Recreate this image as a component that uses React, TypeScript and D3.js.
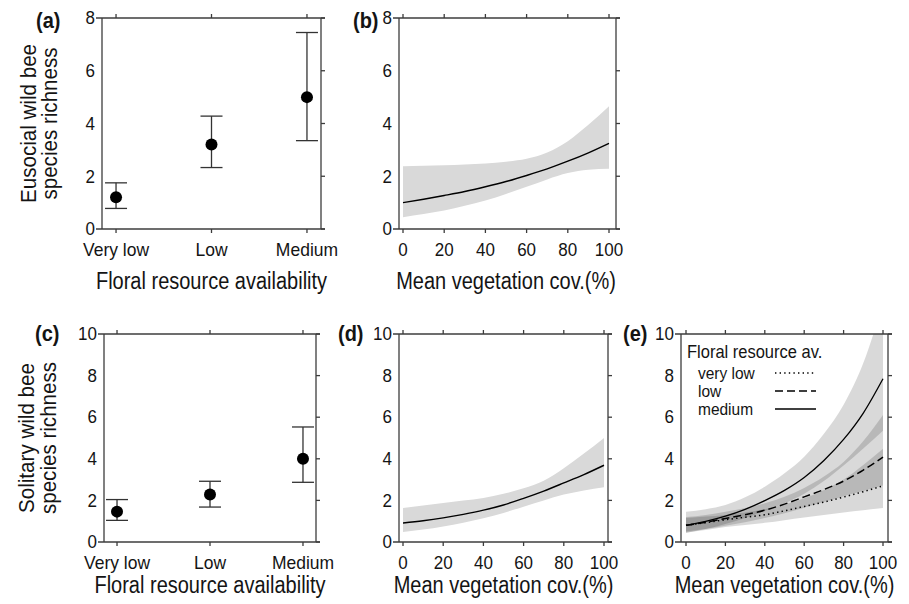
import React, { useEffect, useRef } from "react";
import * as d3 from "d3";

// categorical panels (a) and (c)
const categories = ["Very low", "Low", "Medium"];
const eusocialMean = [1.2, 3.2, 5.0];
const eusocialLow = [0.78, 2.33, 3.35];
const eusocialHigh = [1.75, 4.28, 7.45];
const solitaryMean = [1.46, 2.28, 4.0];
const solitaryLow = [1.04, 1.68, 2.87];
const solitaryHigh = [2.04, 2.92, 5.53];

// vegetation cover panels (b), (d), (e)
const cover = [0, 10, 20, 30, 40, 50, 60, 70, 80, 90, 100];
const coverTicks = [0, 20, 40, 60, 80, 100];

const eusocialFit = [1.0, 1.13, 1.27, 1.42, 1.6, 1.8, 2.03, 2.28, 2.57, 2.89, 3.25];
const eusocialUpper = [2.38, 2.4, 2.42, 2.45, 2.48, 2.55, 2.66, 2.9, 3.33, 3.95, 4.65];
const eusocialLower = [0.45, 0.57, 0.7, 0.88, 1.08, 1.33, 1.6, 1.88, 2.12, 2.25, 2.28];

const solitaryFit = [0.91, 1.02, 1.16, 1.33, 1.53, 1.78, 2.1, 2.45, 2.84, 3.24, 3.69];
const solitaryUpper = [1.63, 1.75, 1.87, 1.99, 2.12, 2.32, 2.58, 2.95, 3.55, 4.25, 5.0];
const solitaryLower = [0.48, 0.6, 0.75, 0.93, 1.14, 1.4, 1.7, 2.0, 2.28, 2.48, 2.63];

const mediumFit = [0.8, 0.99, 1.24, 1.57, 1.99, 2.48, 3.1, 3.92, 4.93, 6.2, 7.85];
const mediumUpper = [1.46, 1.58, 1.78, 2.15, 2.66, 3.3, 4.1, 5.2, 6.6, 8.6, 11.5];
const mediumLower = [0.44, 0.62, 0.86, 1.15, 1.49, 1.86, 2.32, 2.93, 3.68, 4.5, 5.35];

const lowFit = [0.8, 0.95, 1.13, 1.31, 1.53, 1.82, 2.17, 2.52, 2.93, 3.46, 4.08];
const lowUpper = [1.2, 1.3, 1.45, 1.63, 1.86, 2.18, 2.6, 3.15, 3.85, 4.85, 6.1];
const lowLower = [0.5, 0.62, 0.78, 0.95, 1.15, 1.38, 1.65, 1.92, 2.2, 2.45, 2.72];

const veryLowFit = [0.8, 0.93, 1.07, 1.19, 1.31, 1.5, 1.71, 1.92, 2.16, 2.42, 2.7];
const veryLowUpper = [1.15, 1.22, 1.3, 1.42, 1.58, 1.8, 2.1, 2.5, 3.0, 3.7, 4.48];
const veryLowLower = [0.45, 0.58, 0.72, 0.82, 0.92, 1.05, 1.18, 1.3, 1.42, 1.53, 1.63];

const legendLabels = ["very low", "low", "medium"];

const FONT = "'Liberation Sans', Arial, Helvetica, sans-serif";
const AXIS = "#3c3c3c";
const TEXT = "#141414";

type Box = { left: number; right: number; top: number; bottom: number };

const App = () => {
    const svgRef = useRef<SVGSVGElement>(null);

    useEffect(() => {
        const svg = d3.select(svgRef.current);
        svg.selectAll("*").remove();
        svg.append("rect").attr("width", 909).attr("height", 604).attr("fill", "#fff");

        // box with R-style axes: ticks outward on top, bottom, right
        const frame = (box: Box, xTicks: number[], yTicks: number[]) => {
            const g = svg.append("g").attr("stroke", AXIS).attr("stroke-width", 1.3).attr("fill", "none");
            [box.top, box.bottom].forEach((y) =>
                g.append("line").attr("x1", box.left - 6).attr("x2", box.right + 4).attr("y1", y).attr("y2", y)
            );
            [box.left, box.right].forEach((x) =>
                g.append("line").attr("x1", x).attr("x2", x).attr("y1", box.top).attr("y2", box.bottom)
            );
            xTicks.forEach((x) => {
                g.append("line").attr("x1", x).attr("x2", x).attr("y1", box.bottom).attr("y2", box.bottom + 4);
                g.append("line").attr("x1", x).attr("x2", x).attr("y1", box.top).attr("y2", box.top - 4);
            });
            yTicks.forEach((y) => {
                g.append("line").attr("x1", box.right).attr("x2", box.right + 4).attr("y1", y).attr("y2", y);
            });
        };

        // text slightly stretched vertically, as in the original figure
        const text = (x: number, y: number, s: string, size: number, anchor = "start", weight = "normal", sy = 1.12) =>
            svg.append("text")
                .attr("transform", `translate(${x},${y}) scale(1,${sy})`)
                .attr("font-family", FONT)
                .attr("font-size", size)
                .attr("font-weight", weight)
                .attr("fill", TEXT)
                .attr("text-anchor", anchor)
                .text(s);

        const yAxisLabels = (box: Box, y: d3.ScaleLinear<number, number>, ticks: number[]) => {
            ticks.forEach((t) => {
                text(box.left - 7, y(t), String(t), 17, "end", "normal", 1.05).attr("dy", "0.35em");
            });
        };

        const yTitle = (lines: string[], xs: number[], cy: number) => {
            lines.forEach((l, i) => {
                svg.append("text")
                    .attr("transform", `translate(${xs[i]},${cy}) rotate(-90) scale(1.03,1.06)`)
                    .attr("font-family", FONT)
                    .attr("font-size", 20)
                    .attr("fill", TEXT)
                    .attr("text-anchor", "middle")
                    .text(l);
            });
        };

        // ---------- categorical panels ----------
        const catPanel = (
            box: Box, pad: number, yMax: number, yTicks: number[],
            mean: number[], lo: number[], hi: number[], tag: string, tagX: number,
            tickBase: number, titleBase: number
        ) => {
            const x = d3.scalePoint<string>().domain(categories).range([box.left, box.right]).padding(pad);
            const y = d3.scaleLinear().domain([0, yMax]).range([box.bottom, box.top]);
            frame(box, categories.map((c) => x(c)!), yTicks.map(y));
            yAxisLabels(box, y, yTicks);
            categories.forEach((c) => text(x(c)!, tickBase, c, 17.5, "middle", "normal", 1.04));
            text((box.left + box.right) / 2, titleBase, "Floral resource availability", 20, "middle", "normal", 1.15);

            const g = svg.append("g").attr("stroke", "#333").attr("stroke-width", 1.3);
            categories.forEach((c, i) => {
                const cx = x(c)!;
                g.append("line").attr("x1", cx).attr("x2", cx).attr("y1", y(lo[i])).attr("y2", y(hi[i]));
                [lo[i], hi[i]].forEach((v) =>
                    g.append("line").attr("x1", cx - 11).attr("x2", cx + 11).attr("y1", y(v)).attr("y2", y(v))
                );
            });
            svg.append("g")
                .selectAll("circle")
                .data(mean)
                .join("circle")
                .attr("cx", (_, i) => x(categories[i])!)
                .attr("cy", (d) => y(d))
                .attr("r", 6)
                .attr("fill", "#000");
            text(tagX, box.top + (box.top < 100 ? 10 : 7), tag, 20, "start", "bold", 1.1);
        };

        // ---------- vegetation cover panels ----------
        const band = (
            g: d3.Selection<SVGGElement, unknown, null, undefined>,
            x: d3.ScaleLinear<number, number>, y: d3.ScaleLinear<number, number>,
            lo: number[], hi: number[], fill: string, opacity: number
        ) => {
            const area = d3.area<number>()
                .x((_, i) => x(cover[i]))
                .y0((_, i) => y(lo[i]))
                .y1((d) => y(d))
                .curve(d3.curveMonotoneX);
            g.append("path").datum(hi).attr("d", area).attr("fill", fill).attr("fill-opacity", opacity);
        };

        const fitLine = (
            g: d3.Selection<SVGGElement, unknown, null, undefined>,
            x: d3.ScaleLinear<number, number>, y: d3.ScaleLinear<number, number>,
            vals: number[], dash: string | null, width = 1.4
        ) => {
            const line = d3.line<number>().x((_, i) => x(cover[i])).y((d) => y(d)).curve(d3.curveMonotoneX);
            g.append("path")
                .datum(vals)
                .attr("d", line)
                .attr("fill", "none")
                .attr("stroke", "#000")
                .attr("stroke-width", width)
                .attr("stroke-dasharray", dash);
        };

        const coverPanel = (
            box: Box, range: [number, number], yMax: number, yTicks: number[],
            tag: string, tagX: number, tickBase: number, titleBase: number, clipId: string
        ) => {
            const x = d3.scaleLinear().domain([0, 100]).range(range);
            const y = d3.scaleLinear().domain([0, yMax]).range([box.bottom, box.top]);
            svg.append("clipPath").attr("id", clipId)
                .append("rect")
                .attr("x", box.left).attr("y", box.top)
                .attr("width", box.right - box.left).attr("height", box.bottom - box.top);
            const g = svg.append("g").attr("clip-path", `url(#${clipId})`);
            frame(box, coverTicks.map(x), yTicks.map(y));
            yAxisLabels(box, y, yTicks);
            coverTicks.forEach((t) => text(x(t), tickBase, String(t), 17, "middle", "normal", 1.05));
            text((range[0] + range[1]) / 2, titleBase, "Mean vegetation cov.(%)", 20, "middle", "normal", 1.15);
            text(tagX, box.top + (box.top < 100 ? 10 : 7), tag, 20, "start", "bold", 1.1);
            return { x, y, g };
        };

        // (a)
        const topBox = { left: 102, right: 321, top: 18, bottom: 229 };
        catPanel(topBox, 0.147, 8, [0, 2, 4, 6, 8], eusocialMean, eusocialLow, eusocialHigh, "(a)", 36, 256, 289);
        yTitle(["Eusocial wild bee", "species richness"], [36, 57], 123.5);

        // (c)
        const cBox = { left: 104, right: 316, top: 334, bottom: 542 };
        catPanel(cBox, 0.14, 10, [0, 2, 4, 6, 8, 10], solitaryMean, solitaryLow, solitaryHigh, "(c)", 35, 569, 593);
        yTitle(["Solitary wild bee", "species richness"], [34, 56], 438);

        // (b)
        const b = coverPanel({ left: 399, right: 616, top: 18, bottom: 229 }, [403, 609], 8, [0, 2, 4, 6, 8], "(b)", 353, 256, 289, "clipB");
        band(b.g, b.x, b.y, eusocialLower, eusocialUpper, "#d9d9d9", 1);
        fitLine(b.g, b.x, b.y, eusocialFit, null);

        // (d)
        const d = coverPanel({ left: 399, right: 608, top: 334, bottom: 542 }, [403, 604], 10, [0, 2, 4, 6, 8, 10], "(d)", 338, 569, 593, "clipD");
        band(d.g, d.x, d.y, solitaryLower, solitaryUpper, "#d9d9d9", 1);
        fitLine(d.g, d.x, d.y, solitaryFit, null);

        // (e)
        const e = coverPanel({ left: 681, right: 888, top: 334, bottom: 542 }, [686, 883], 10, [0, 2, 4, 6, 8, 10], "(e)", 623, 569, 593, "clipE");
        band(e.g, e.x, e.y, mediumLower, mediumUpper, "#000", 0.15);
        band(e.g, e.x, e.y, lowLower, lowUpper, "#000", 0.15);
        band(e.g, e.x, e.y, veryLowLower, veryLowUpper, "#000", 0.15);
        const dashes = ["1.4 3.2", "8 4", null];
        fitLine(e.g, e.x, e.y, veryLowFit, dashes[0], 1.5);
        fitLine(e.g, e.x, e.y, lowFit, dashes[1], 1.5);
        fitLine(e.g, e.x, e.y, mediumFit, dashes[2], 1.3);

        // legend in (e)
        text(687, 358, "Floral resource av.", 16.5, "start", "normal", 1.08);
        const legendY = [373, 391, 409];
        legendLabels.forEach((l, i) => {
            text(698, legendY[i] + 6, l, 15.5, "start", "normal", 1.04);
            svg.append("line")
                .attr("x1", 775).attr("x2", 816)
                .attr("y1", legendY[i]).attr("y2", legendY[i])
                .attr("stroke", "#000")
                .attr("stroke-width", 1.6)
                .attr("stroke-dasharray", dashes[i]);
        });
    }, []);

    return (
        <svg
            ref={svgRef}
            width={909}
            height={604}
            style={{ position: "absolute", left: 0, top: 0, display: "block" }}
        />
    );
};

export default App;
